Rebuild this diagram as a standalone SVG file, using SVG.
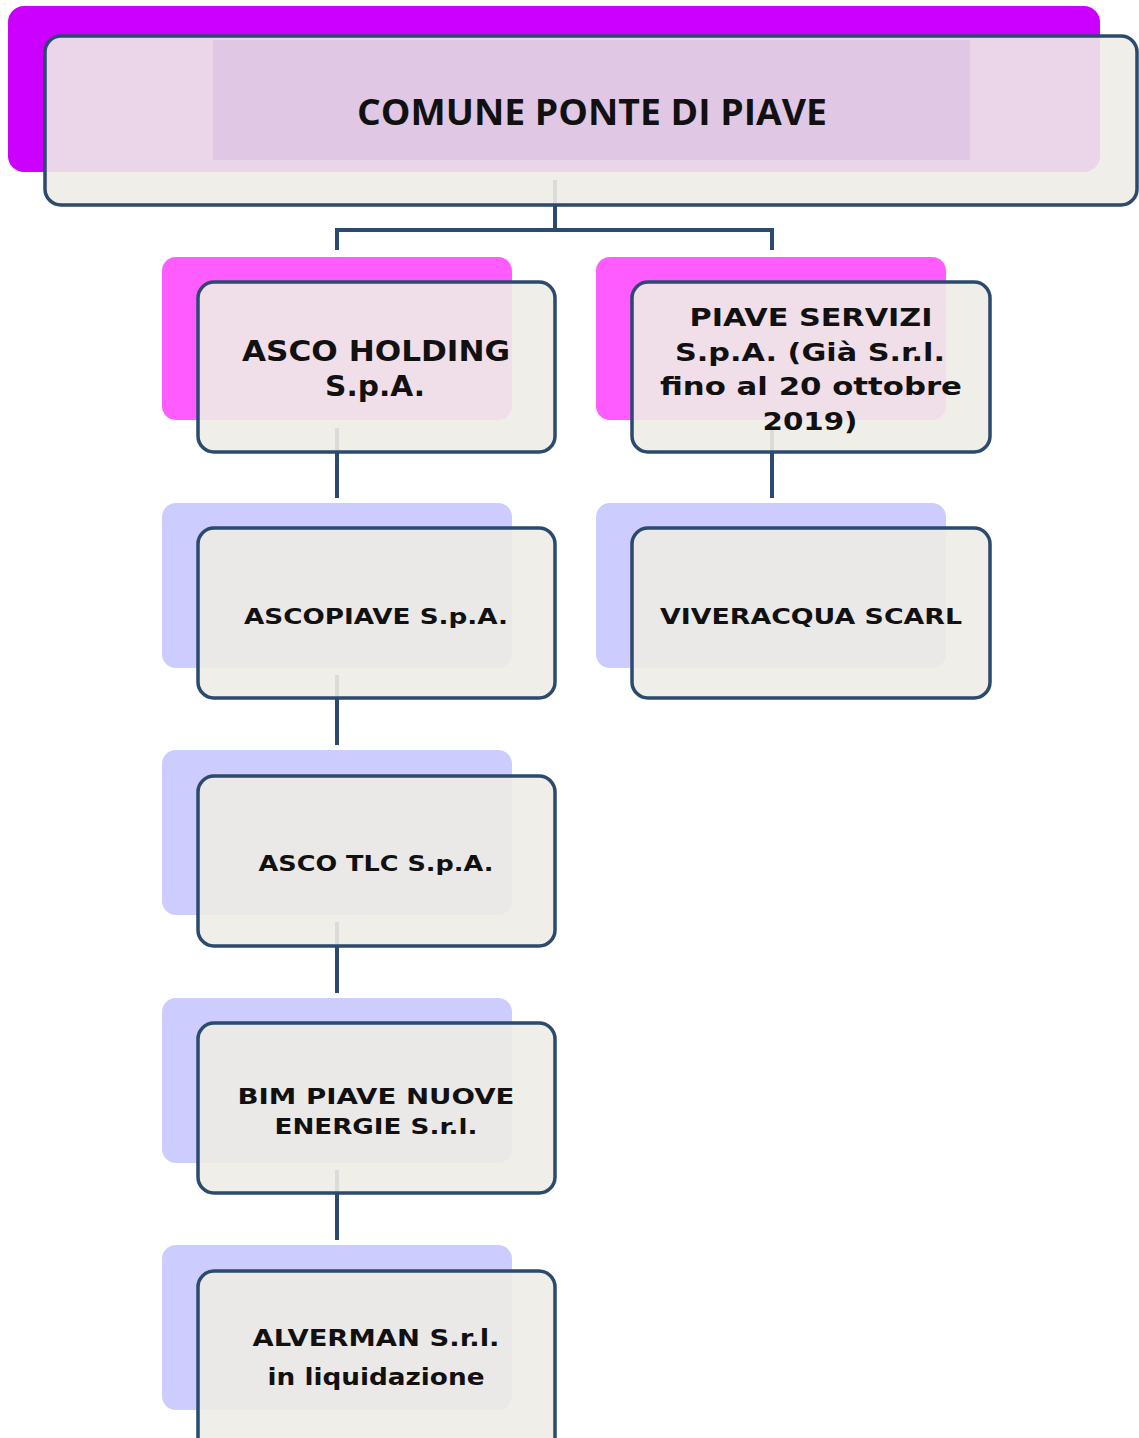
<svg xmlns="http://www.w3.org/2000/svg" width="1139" height="1438" viewBox="0 0 1139 1438">
<style>
.bg{fill:#ffffff}
.front{fill:#eeece5;fill-opacity:0.9;stroke:#2b4a6d;stroke-width:3.5}
.mag{fill:#cc00ff}
.pink{fill:#ff5cff}
.lav{fill:#ccccff}
.conn{fill:none;stroke:#2b4a6d;stroke-width:4}
.t{font-family:"DejaVu Sans","Verdana",sans-serif;font-weight:bold;fill:#111111;text-anchor:middle}
.tt{font-family:"Open Sans","Liberation Sans",sans-serif;font-weight:bold;fill:#111111;text-anchor:middle}
</style>
<rect class="bg" x="0" y="0" width="1139" height="1438"/>
<g id="connectors">
<path class="conn" d="M555 180 V230 M337 230 H772 M337 228 V250 M772 228 V250"/>
<path class="conn" d="M337 428 V498"/>
<path class="conn" d="M337 675 V745"/>
<path class="conn" d="M337 922 V993"/>
<path class="conn" d="M337 1170 V1240"/>
<path class="conn" d="M772 428 V498"/>
</g>
<g id="node-comune">
<rect class="mag" x="8" y="6" width="1092" height="166" rx="16"/>
<rect class="front" x="45" y="36" width="1092" height="169" rx="16"/>
<rect x="213" y="40" width="757" height="120" fill="#c8a8d8" fill-opacity="0.3"/>
<text class="tt" x="592" y="125" font-size="36" textLength="470" lengthAdjust="spacingAndGlyphs">COMUNE PONTE DI PIAVE</text>
</g>
<g id="node-asco-holding">
<rect class="pink" x="162" y="257" width="350" height="163" rx="14"/>
<rect class="front" x="198" y="282" width="357" height="170" rx="16"/>
<text class="t" x="376" y="361" font-size="29" textLength="268" lengthAdjust="spacingAndGlyphs">ASCO HOLDING</text>
<text class="t" x="375" y="396" font-size="29" textLength="100" lengthAdjust="spacingAndGlyphs">S.p.A.</text>
</g>
<g id="node-piave-servizi">
<rect class="pink" x="596" y="257" width="350" height="163" rx="14"/>
<rect class="front" x="632" y="282" width="358" height="170" rx="16"/>
<text class="t" x="811" y="326" font-size="25" textLength="243" lengthAdjust="spacingAndGlyphs">PIAVE SERVIZI</text>
<text class="t" x="810" y="361" font-size="25" textLength="270" lengthAdjust="spacingAndGlyphs">S.p.A. (Già S.r.l.</text>
<text class="t" x="811" y="395" font-size="25" textLength="302" lengthAdjust="spacingAndGlyphs">fino al 20 ottobre</text>
<text class="t" x="810" y="430" font-size="25" textLength="95" lengthAdjust="spacingAndGlyphs">2019)</text>
</g>
<g id="node-ascopiave">
<rect class="lav" x="162" y="503" width="350" height="165" rx="14"/>
<rect class="front" x="198" y="528" width="357" height="170" rx="16"/>
<text class="t" x="376" y="624" font-size="22" textLength="264" lengthAdjust="spacingAndGlyphs">ASCOPIAVE S.p.A.</text>
</g>
<g id="node-viveracqua">
<rect class="lav" x="596" y="503" width="350" height="165" rx="14"/>
<rect class="front" x="632" y="528" width="358" height="170" rx="16"/>
<text class="t" x="811" y="624" font-size="22" textLength="302" lengthAdjust="spacingAndGlyphs">VIVERACQUA SCARL</text>
</g>
<g id="node-asco-tlc">
<rect class="lav" x="162" y="750" width="350" height="165" rx="14"/>
<rect class="front" x="198" y="776" width="357" height="170" rx="16"/>
<text class="t" x="376" y="871" font-size="22" textLength="235" lengthAdjust="spacingAndGlyphs">ASCO TLC S.p.A.</text>
</g>
<g id="node-bim">
<rect class="lav" x="162" y="998" width="350" height="165" rx="14"/>
<rect class="front" x="198" y="1023" width="357" height="170" rx="16"/>
<text class="t" x="376" y="1104" font-size="22" textLength="277" lengthAdjust="spacingAndGlyphs">BIM PIAVE NUOVE</text>
<text class="t" x="376" y="1134" font-size="22" textLength="203" lengthAdjust="spacingAndGlyphs">ENERGIE S.r.l.</text>
</g>
<g id="node-alverman">
<rect class="lav" x="162" y="1245" width="350" height="165" rx="14"/>
<rect class="front" x="198" y="1271" width="357" height="185" rx="16"/>
<text class="t" x="376" y="1346" font-size="23" textLength="247" lengthAdjust="spacingAndGlyphs">ALVERMAN S.r.l.</text>
<text class="t" x="376" y="1385" font-size="23" textLength="217" lengthAdjust="spacingAndGlyphs">in liquidazione</text>
</g>
</svg>
